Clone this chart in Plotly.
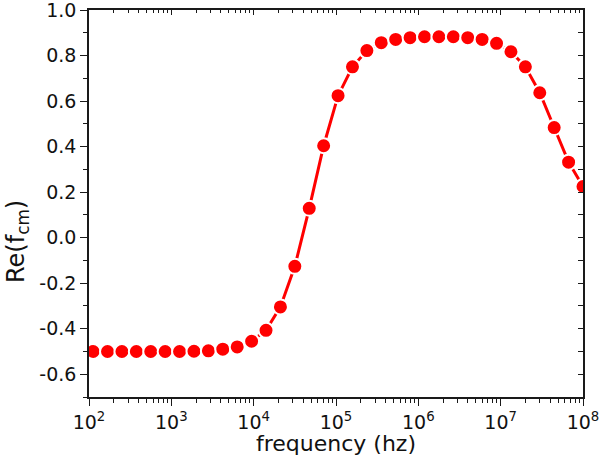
import plotly.graph_objects as go

# Data
frequency_hz = [
    112.2, 167.9, 251.2, 375.8, 562.3, 841.4, 1259, 1884, 2818, 4217,
    6310, 9441, 14125, 21135, 31623, 47315, 70795, 105925, 158489, 237137,
    354813, 530884, 794328, 1188502, 1778279, 2660725, 3981072, 5956621,
    8912509, 13335214, 19952623, 29853826, 44668359, 66834392, 100000000,
]
re_fcm = [
    -0.500, -0.500, -0.500, -0.500, -0.500, -0.500, -0.500, -0.499, -0.497, -0.490,
    -0.480, -0.455, -0.407, -0.304, -0.126, 0.129, 0.404, 0.624, 0.751, 0.822,
    0.857, 0.871, 0.879, 0.883, 0.883, 0.883, 0.879, 0.871, 0.854, 0.817,
    0.751, 0.637, 0.484, 0.332, 0.225,
]

x_tick_vals = [1e2, 1e3, 1e4, 1e5, 1e6, 1e7, 1e8]
x_tick_text = ["10<sup>2</sup>", "10<sup>3</sup>", "10<sup>4</sup>", "10<sup>5</sup>",
               "10<sup>6</sup>", "10<sup>7</sup>", "10<sup>8</sup>"]
x_minor_vals = [m * 10 ** e for e in range(2, 8) for m in range(2, 10)]
y_tick_vals = [-0.6, -0.4, -0.2, 0.0, 0.2, 0.4, 0.6, 0.8, 1.0]
y_tick_text = ["-0.6", "-0.4", "-0.2", "0.0", "0.2", "0.4", "0.6", "0.8", "1.0"]

AX = "#1a1a1a"
TXT = "#111111"
FONT = "DejaVu Sans, Arial, sans-serif"

fig = go.Figure()
fig.add_trace(go.Scatter(
    x=frequency_hz, y=re_fcm, mode="lines+markers",
    line=dict(color="#ff0000", width=3),
    marker=dict(color="#ff0000", size=15, line=dict(color="white", width=2)),
    showlegend=False, cliponaxis=True,
))
# invisible trace to bind mirrored axes
fig.add_trace(go.Scatter(x=[1e3], y=[0], xaxis="x2", yaxis="y2", mode="markers",
                         marker=dict(opacity=0), showlegend=False, hoverinfo="skip"))

common_x = dict(type="log", range=[2, 8], tickvals=x_tick_vals, showgrid=False,
                zeroline=False, showline=True, linecolor=AX, linewidth=1.5,
                tickcolor=AX, tickwidth=1.2, automargin=False,
                ticklabeloverflow="allow")
common_y = dict(range=[-0.7, 1.0005], tickvals=y_tick_vals, showgrid=False,
                zeroline=False, showline=True, linecolor=AX, linewidth=1.5,
                tickcolor=AX, tickwidth=1.2, automargin=False,
                ticklabeloverflow="allow")

fig.update_layout(
    width=600, height=465,
    margin=dict(l=89, r=17, t=10, b=68, autoexpand=False),
    paper_bgcolor="white", plot_bgcolor="white",
    font=dict(family=FONT, color=TXT),
    xaxis=dict(**common_x, ticks="outside", ticklen=7, ticktext=x_tick_text,
               tickfont=dict(size=19, family=FONT, color=TXT),
               minor=dict(tickvals=x_minor_vals, ticks="outside", ticklen=4,
                          tickcolor=AX, tickwidth=1, showgrid=False)),
    yaxis=dict(**common_y, ticks="outside", ticklen=7, ticktext=y_tick_text,
               tickfont=dict(size=19, family=FONT, color=TXT),
               minor=dict(dtick=0.1, ticks="outside", ticklen=4,
                          tickcolor=AX, tickwidth=1, showgrid=False)),
    xaxis2=dict(**common_x, overlaying="x", side="top", anchor="y2", ticks="inside",
                ticklen=5, showticklabels=False,
                minor=dict(tickvals=x_minor_vals, ticks="inside", ticklen=3,
                           tickcolor=AX, tickwidth=1, showgrid=False)),
    yaxis2=dict(**common_y, overlaying="y", side="right", anchor="x2", ticks="inside",
                ticklen=5, showticklabels=False,
                minor=dict(dtick=0.1, ticks="inside", ticklen=5,
                           tickcolor=AX, tickwidth=1, showgrid=False)),
    annotations=[
        dict(text="frequency (hz)", xref="paper", yref="paper", x=0.5, y=-(443 - 397) / 387,
             xanchor="center", yanchor="middle", showarrow=False,
             font=dict(size=22, family=FONT, color=TXT)),
        dict(text="Re(f<sub>cm</sub>)", xref="paper", yref="paper",
             x=(17 - 89) / 494, y=-(242 - 397) / 387,
             xanchor="center", yanchor="middle", textangle=-90, showarrow=False,
             font=dict(size=24, family=FONT, color=TXT)),
    ],
)

fig.write_html("out.html",
               config={"displayModeBar": False},
               post_script="document.body.style.margin='0';document.body.style.overflow='hidden';")
